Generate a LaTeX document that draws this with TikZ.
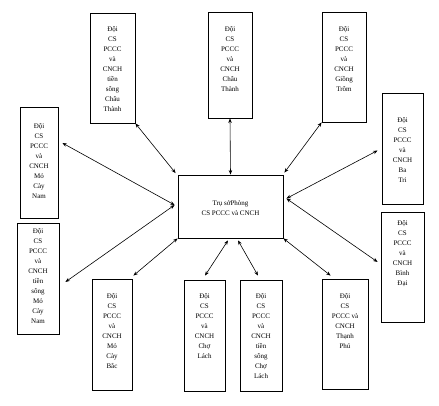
\documentclass[tikz,border=0pt]{standalone}
\usepackage{fontspec}
\setmainfont{Liberation Serif}
\usetikzlibrary{arrows.meta}
\begin{document}
\begin{tikzpicture}[x=1pt,y=-1pt,
  unitbox/.style={draw=black,line width=0.8pt,inner sep=0pt},
  lbl/.style={align=center,inner sep=0pt,font=\fontsize{7}{10}\selectfont},
  link/.style={line width=0.6pt,{Stealth[length=4.5pt,width=3.5pt]}-{Stealth[length=4.5pt,width=3.5pt]}}]
\useasboundingbox (0,0) rectangle (439,406);
% boxes
\node[unitbox,minimum width=45pt,minimum height=110pt] (ctc) at (112.5,68) {};
\node[unitbox,minimum width=44pt,minimum height=106pt] (ct) at (230,65) {};
\node[unitbox,minimum width=44pt,minimum height=110pt] (gt) at (344,67) {};
\node[unitbox,minimum width=41pt,minimum height=111pt] (bt) at (402.5,148.5) {};
\node[unitbox,minimum width=38pt,minimum height=111pt] (mcn) at (39,162.5) {};
\node[unitbox,minimum width=42pt,minimum height=111pt] (tsmcn) at (38,278.5) {};
\node[unitbox,minimum width=43pt,minimum height=110pt] (bd) at (402.5,267) {};
\node[unitbox,minimum width=40pt,minimum height=111pt] (mcb) at (112,334.5) {};
\node[unitbox,minimum width=41pt,minimum height=111pt] (cl) at (204.5,335.5) {};
\node[unitbox,minimum width=42pt,minimum height=111pt] (tscl) at (261,335.5) {};
\node[unitbox,minimum width=46pt,minimum height=110pt] (tp) at (345,334) {};
\node[unitbox,minimum width=105pt,minimum height=63pt] (c) at (230.5,206.5) {};
% labels
\node[lbl] (tctc) at (112.5,69) {Đội\\CS\\PCCC\\và\\CNCH\\tiền\\sông\\Châu\\Thành};
\node[lbl] (tct) at (230,59) {Đội\\CS\\PCCC\\và\\CNCH\\Châu\\Thành};
\node[lbl] (tgt) at (344,59) {Đội\\CS\\PCCC\\và\\CNCH\\Giồng\\Trôm};
\node[lbl] (tbt) at (402.5,150) {Đội\\CS\\PCCC\\và\\CNCH\\Ba\\Tri};
\node[lbl] (tmcn) at (39,161.5) {Đội\\CS\\PCCC\\và\\CNCH\\Mỏ\\Cày\\Nam};
\node[lbl] (ttsmcn) at (38,276) {Đội\\CS\\PCCC\\và\\CNCH\\tiền\\sông\\Mỏ\\Cày\\Nam};
\node[lbl] (tbd) at (402.5,253.5) {Đội\\CS\\PCCC\\và\\CNCH\\Bình\\Đại};
\node[lbl] (tmcb) at (112,331) {Đội\\CS\\PCCC\\và\\CNCH\\Mỏ\\Cày\\Bắc};
\node[lbl] (tcl) at (204.5,326.5) {Đội\\CS\\PCCC\\và\\CNCH\\Chợ\\Lách};
\node[lbl] (ttscl) at (261,336.5) {Đội\\CS\\PCCC\\và\\CNCH\\tiền\\sông\\Chợ\\Lách};
\node[lbl] (ttp) at (345,321) {Đội\\CS\\PCCC và\\CNCH\\Thạnh\\Phú};
\node[lbl] (tc) at (230.5,208) {Trụ sởPhòng\\CS PCCC và CNCH};
% connectors
\draw[link] (ctc.south east) -- ([shift={(-2,-1.5)}]c.north west);
\draw[link] (ct.south) -- (c.north);
\draw[link] (gt.south west) -- ([shift={(1,-2)}]c.north east);
\draw[link] ([shift={(-4,2)}]bt.west) -- ([shift={(3,-8)}]c.east);
\draw[link] ([shift={(-3,-5)}]bd.west) -- ([shift={(3,-8)}]c.east);
\draw[link] ([shift={(4,-19.5)}]mcn.east) -- ([shift={(-3,-1.5)}]c.west);
\draw[link] ([shift={(6,3.5)}]tsmcn.east) -- ([shift={(-3,-1.5)}]c.west);
\draw[link] ([shift={(1,-3)}]mcb.north east) -- (c.south west);
\draw[link] ([shift={(0.5,-4)}]cl.north) -- ([shift={(-2.5,2)}]c.south);
\draw[link] ([shift={(-3,-4)}]tscl.north) -- ([shift={(7.5,2)}]c.south);
\draw[link] ([shift={(9,-3)}]tp.north west) -- (c.south east);
\end{tikzpicture}
\end{document}
